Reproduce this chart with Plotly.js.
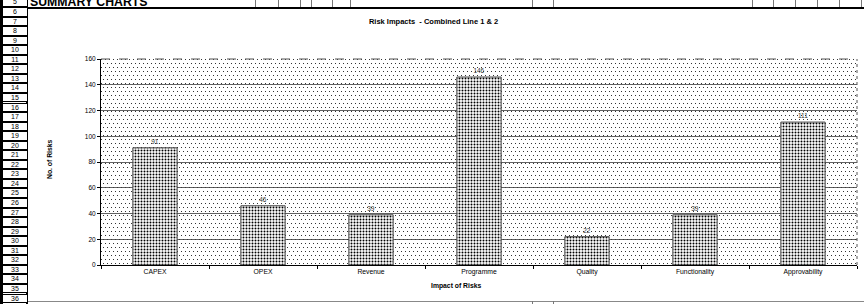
<!DOCTYPE html>
<html>
<head>
<meta charset="utf-8">
<script src="https://cdn.plot.ly/plotly-3.0.1.min.js"></script>
<style>
  html, body { margin:0; padding:0; background:#fff; }
  #wrap { position:relative; width:864px; height:304px; overflow:hidden; font-family:"Liberation Sans", Arial, sans-serif; }
  #bgdots { position:absolute; left:101px; top:59px; width:756px; height:206px;
    background-image:url("data:image/svg+xml;utf8,<svg xmlns='http://www.w3.org/2000/svg' width='8' height='8'><rect x='0' y='0' width='1' height='1' fill='%23333'/><rect x='4' y='0' width='1' height='1' fill='%23333'/><rect x='2' y='4' width='1' height='1' fill='%23333'/><rect x='6' y='4' width='1' height='1' fill='%23333'/></svg>");
    background-size:8px 8px; }
  #chart { position:absolute; left:0; top:0; width:864px; height:304px; }
  .deco { position:absolute; }
  .rowh { position:absolute; left:3px; width:24px; background:#fff; color:#000; font-size:7px; text-align:center; box-sizing:border-box; border-top:1px solid #000; border-bottom:1px solid #000; }
</style>
</head>
<body>
<div id="wrap">
  <div id="bgdots"></div>
  <div id="chart"></div>
  <div id="sheet"></div>
</div>
<script>
// ---- data ----
const categories = ["CAPEX", "OPEX", "Revenue", "Programme", "Quality", "Functionality", "Approvability"];
const riskCounts = [91, 46, 39, 146, 22, 39, 111];
const yTickValues = [0, 20, 40, 60, 80, 100, 120, 140, 160];
const rowNumbers = [];
for (let r = 5; r <= 36; r++) rowNumbers.push(r);
const chartTitle = "Risk Impacts  - Combined Line 1 & 2";
const xTitle = "Impact of Risks";
const yTitle = "No. of Risks";
const sheetHeading = "SUMMARY CHARTS";
const headerColumnEdges = [255, 278, 300, 311, 332, 350, 532, 553, 752, 773, 795, 817, 839, 861];

// ---- spreadsheet decorations ----
const sheet = document.getElementById('sheet');
let html = '';
html += '<div class="deco" style="left:0;top:0;width:3px;height:304px;background:#000"></div>';
html += '<div class="deco" style="left:26px;top:0;width:2px;height:304px;background:#000"></div>';
const rowStep = 9.55;
rowNumbers.forEach((r, i) => {
  const c = 2.2 + i * rowStep;
  const top = c - rowStep / 2;
  html += '<div class="rowh" style="top:' + top.toFixed(1) + 'px;height:' + rowStep.toFixed(2) + 'px;line-height:' + (rowStep - 2).toFixed(1) + 'px">' + r + '</div>';
});
html += '<div class="deco" style="left:30px;top:-5px;font-size:12.3px;font-weight:bold;white-space:nowrap;line-height:14px">' + sheetHeading + '</div>';
html += '<div class="deco" style="left:27px;top:7px;width:837px;height:2px;background:#000"></div>';
headerColumnEdges.forEach(x => {
  html += '<div class="deco" style="left:' + x + 'px;top:0;width:1px;height:7px;background:#777"></div>';
});
html += '<div class="deco" style="left:28px;top:301px;width:836px;height:1px;background:#888"></div>';
[532, 553].forEach(x => {
  html += '<div class="deco" style="left:' + x + 'px;top:301px;width:1px;height:3px;background:#777"></div>';
});
sheet.innerHTML = html;

// ---- chart ----
const font = "Liberation Sans, Arial, sans-serif";
const trace = {
  type: 'bar',
  x: categories,
  y: riskCounts,
  text: riskCounts.map(String),
  textposition: 'outside',
  textfont: { family: font, size: 6.5, color: '#333' },
  cliponaxis: false,
  marker: {
    color: '#fff',
    line: { color: '#444', width: 1 },
    pattern: { shape: '.', fgcolor: '#000', bgcolor: '#fff', size: 3, solidity: 0.33, fillmode: 'replace' }
  },
  hoverinfo: 'skip'
};

const layout = {
  width: 864, height: 304,
  margin: { l: 101, r: 7, t: 59, b: 39, pad: 0 },
  paper_bgcolor: 'rgba(0,0,0,0)',
  plot_bgcolor: 'rgba(0,0,0,0)',
  showlegend: false,
  bargap: 0.59,
  font: { family: font, size: 7, color: '#000' },
  title: { text: '<b>' + chartTitle + '</b>', font: { family: font, size: 7.5, color: '#000' },
           x: 380 / 864, xanchor: 'center', xref: 'paper', y: 1 - 21 / 304, yanchor: 'middle', yref: 'container' },
  xaxis: {
    type: 'category',
    showline: true, linecolor: '#000', linewidth: 1,
    ticks: 'outside', tickson: 'boundaries', ticklen: 3, tickcolor: '#000',
    tickfont: { family: font, size: 6.8, color: '#000' },
    showgrid: false, zeroline: false, fixedrange: true
  },
  yaxis: {
    range: [0, 160], tickvals: yTickValues,
    showline: true, linecolor: '#000', linewidth: 1,
    ticks: 'outside', ticklen: 3, tickcolor: '#000',
    tickfont: { family: font, size: 6.5, color: '#000' },
    showgrid: true, gridcolor: '#3a3a3a', gridwidth: 0.8,
    zeroline: false, fixedrange: true
  },
  shapes: [
    { type: 'line', xref: 'paper', yref: 'paper', x0: 0, x1: 1, y0: 1, y1: 1, line: { color: '#555', width: 1, dash: 'dash' } },
    { type: 'line', xref: 'paper', yref: 'paper', x0: 1, x1: 1, y0: 0, y1: 1, line: { color: '#555', width: 1, dash: 'dot' } }
  ],
  annotations: [
    { text: '<b>' + xTitle + '</b>', xref: 'paper', yref: 'paper', x: (456 - 101) / 756, y: -(286 - 265) / 206,
      xanchor: 'center', yanchor: 'middle', showarrow: false, font: { family: font, size: 6.8, color: '#000' } },
    { text: '<b>' + yTitle + '</b>', xref: 'paper', yref: 'paper', x: (49 - 101) / 756, y: (265 - 160) / 206,
      xanchor: 'center', yanchor: 'middle', showarrow: false, textangle: -90, font: { family: font, size: 6.8, color: '#000' } }
  ]
};

Plotly.newPlot('chart', [trace], layout, { staticPlot: true, displayModeBar: false });
</script>
</body>
</html>
